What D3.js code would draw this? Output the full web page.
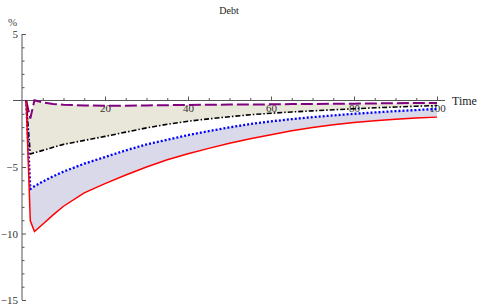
<!DOCTYPE html>
<html><head><meta charset="utf-8">
<script src="https://cdn.jsdelivr.net/npm/d3@7"></script>
<style>body{margin:0;background:#fff}svg{display:block}text{font-family:"Liberation Serif","Times New Roman",serif}</style>
</head><body><svg id="c" width="480" height="306"></svg>
<script>
const times     = [1,2,3,5,7.5,10,15,20,25,30,35,40,45,50,55,60,65,70,75,80,85,90,95,100];
const redVals   = [0,-9.05,-9.85,-9.3,-8.6,-7.95,-6.95,-6.25,-5.6,-5.0,-4.45,-4.0,-3.6,-3.22,-2.88,-2.57,-2.28,-2.03,-1.82,-1.65,-1.52,-1.41,-1.32,-1.25];
const blueVals  = [0,-6.65,-6.45,-6.1,-5.7,-5.35,-4.75,-4.25,-3.75,-3.3,-2.95,-2.6,-2.3,-2.02,-1.77,-1.57,-1.4,-1.25,-1.12,-1.0,-0.9,-0.8,-0.72,-0.63];
const blackVals = [0,-4.02,-3.93,-3.75,-3.52,-3.3,-3.0,-2.7,-2.38,-2.06,-1.79,-1.56,-1.38,-1.22,-1.07,-0.96,-0.86,-0.78,-0.7,-0.62,-0.55,-0.49,-0.43,-0.38];
const purpVals  = [0,-1.35,0.02,-0.15,-0.26,-0.32,-0.37,-0.39,-0.39,-0.37,-0.35,-0.33,-0.32,-0.31,-0.3,-0.29,-0.27,-0.26,-0.25,-0.24,-0.22,-0.2,-0.19,-0.18];
const xMajor = [20,40,60,80,100];
const xMinor = [5,10,15,25,30,35,45,50,55,65,70,75,85,90,95];
const yMajor = [5,-5,-10,-15];
const yMinor = [4,3,2,1,-1,-2,-3,-4,-6,-7,-8,-9,-11,-12,-13,-14];
const title = "Debt", xLabel = "Time", yLabel = "%";

const svg = d3.select("#c");
const x = d3.scaleLinear().domain([0,100]).range([22,437]);
const y = d3.scaleLinear().domain([-15,5]).range([300,34]);
const axisCol = "#555";

const rows = times.map((t,i)=>({t, r:redVals[i], b:blueVals[i], k:blackVals[i], p:purpVals[i]}));

// fills
svg.append("path").datum(rows)
  .attr("fill","#e9e6da")
  .attr("d", d3.area().x(d=>x(d.t)).y0(d=>y(d.p)).y1(d=>y(d.k)));
svg.append("path").datum(rows)
  .attr("fill","#d9d9ea")
  .attr("d", d3.area().x(d=>x(d.t)).y0(d=>y(d.b)).y1(d=>y(d.r)));

// axes
const gx = svg.append("g").attr("transform",`translate(0,${y(0)})`);
gx.call(d3.axisBottom(x).tickValues(xMajor).tickSize(-4).tickPadding(4).tickFormat(d3.format("d")));
gx.append("g").call(d3.axisBottom(x).tickValues(xMinor).tickSize(-2.5).tickFormat(""));
gx.selectAll(".domain").remove();
gx.append("line").attr("x1",13).attr("x2",445).attr("stroke",axisCol);
gx.selectAll(".tick line").attr("stroke",axisCol);
gx.selectAll("text").attr("fill","#333").style("font-size","11px").style("font-family","Liberation Serif");

const gy = svg.append("g").attr("transform",`translate(${x(0)},0)`);
gy.call(d3.axisLeft(y).tickValues(yMajor).tickSize(-4).tickPadding(4).tickFormat(d=>d<0?"\u2212"+Math.abs(d):d));
gy.append("g").call(d3.axisLeft(y).tickValues(yMinor).tickSize(-2.5).tickFormat(""));
gy.selectAll(".domain").remove();
gy.append("line").attr("y1",y(5)).attr("y2",y(-15)).attr("stroke",axisCol);
gy.selectAll(".tick line").attr("stroke",axisCol);
gy.selectAll("text").attr("fill","#333").style("font-size","11px").style("font-family","Liberation Serif");

// lines
const line = key => d3.line().x(d=>x(d.t)).y(d=>y(d[key]));
svg.append("path").datum(rows).attr("fill","none").attr("stroke","#800080").attr("stroke-width",2)
  .attr("stroke-dasharray","12,4").attr("d", line("p"));
svg.append("path").datum(rows).attr("fill","none").attr("stroke","#000").attr("stroke-width",1.6)
  .attr("stroke-dasharray","5,2,1.5,2").attr("d", line("k"));
svg.append("path").datum(rows).attr("fill","none").attr("stroke","#0000ff").attr("stroke-width",2.3)
  .attr("stroke-dasharray","2,2").attr("d", line("b"));
svg.append("path").datum(rows).attr("fill","none").attr("stroke","#ff0000").attr("stroke-width",1.5)
  .attr("d", line("r"));

// labels
svg.append("text").attr("x",229).attr("y",14).attr("text-anchor","middle").attr("fill","#222")
  .style("font-size","10px").text(title);
svg.append("text").attr("x",452).attr("y",105).attr("fill","#222").style("font-size","12px").text(xLabel);
svg.append("text").attr("x",8).attr("y",26).attr("fill","#444").style("font-size","11px").text(yLabel);
</script></body></html>
